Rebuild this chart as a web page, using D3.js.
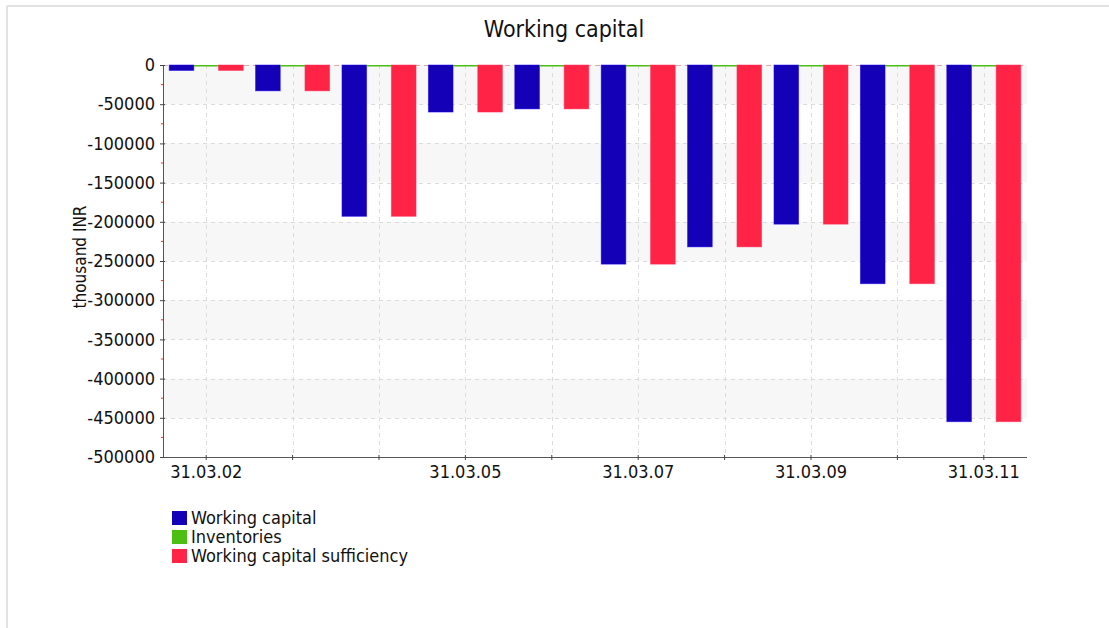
<!DOCTYPE html>
<html>
<head>
<meta charset="utf-8">
<script src="https://cdn.jsdelivr.net/npm/d3@7"></script>
<style>
  body { margin: 0; background: #fff; }
  text { font-family: 'DejaVu Sans Condensed', 'DejaVu Sans', sans-serif; fill: #111; }
</style>
</head>
<body>
<svg id="chart" width="1109" height="628"></svg>
<script>
// Reporting dates (fiscal year ends)
const categories = ["31.03.02", "31.03.03", "31.03.04", "31.03.05", "31.03.06",
                    "31.03.07", "31.03.08", "31.03.09", "31.03.10", "31.03.11"];
// Dates that carry a printed label on the category axis
const shownLabels = ["31.03.02", "31.03.05", "31.03.07", "31.03.09", "31.03.11"];

const seriesNames = ["Working capital", "Inventories", "Working capital sufficiency"];
const seriesColors = ["#1400b6", "#4cc012", "#ff2446"];

// thousand INR
const workingCapital = [-7000, -33000, -193000, -60000, -56000, -254000, -232000, -203000, -279000, -455000];
const inventories    = [0, 0, 0, 0, 0, 0, 0, 0, 0, 0];
const sufficiency    = [-7000, -33000, -193000, -60000, -56000, -254000, -232000, -203000, -279000, -455000];

const yTicks = [0, -50000, -100000, -150000, -200000, -250000, -300000, -350000, -400000, -450000, -500000];
const yDomain = [-500000, 0];

const seriesValues = [workingCapital, inventories, sufficiency];

const svg = d3.select("#chart");
const W = 1109, H = 628;
const plot = { left: 163, right: 1027, top: 65, bottom: 457 };
const FONT = "'DejaVu Sans Condensed','DejaVu Sans',sans-serif";

// outer frame (top and left edges)
svg.append("line").attr("x1", 7).attr("x2", W).attr("y1", 6).attr("y2", 6)
  .attr("stroke", "#e2e2e2").attr("stroke-width", 2);
svg.append("line").attr("x1", 7).attr("x2", 7).attr("y1", 6).attr("y2", H)
  .attr("stroke", "#e2e2e2").attr("stroke-width", 2);

const x0 = d3.scaleBand().domain(categories).range([plot.left, plot.right]).padding(0);
const x1 = d3.scaleBand().domain(seriesNames).range([0, x0.bandwidth()])
  .paddingInner(0).paddingOuter(0.25);
const y = d3.scaleLinear().domain(yDomain).range([plot.bottom, plot.top]);

// alternating background bands
const bands = [];
for (let i = 0; i < yTicks.length - 1; i += 2) bands.push([yTicks[i], yTicks[i + 1]]);
svg.append("g").selectAll("rect").data(bands).join("rect")
  .attr("x", plot.left).attr("width", plot.right - plot.left)
  .attr("y", d => y(d[0])).attr("height", d => y(d[1]) - y(d[0]))
  .attr("fill", "#f7f7f7");

// horizontal grid
svg.append("g").selectAll("line").data(yTicks.slice(1, -1)).join("line")
  .attr("x1", plot.left).attr("x2", plot.right)
  .attr("y1", d => Math.round(y(d)) + 0.5).attr("y2", d => Math.round(y(d)) + 0.5)
  .attr("stroke", "#dcdcdc").attr("stroke-dasharray", "4,4");

// vertical grid at category centres
svg.append("g").selectAll("line").data(categories).join("line")
  .attr("x1", d => Math.round(x0(d) + x0.bandwidth() / 2) + 0.5)
  .attr("x2", d => Math.round(x0(d) + x0.bandwidth() / 2) + 0.5)
  .attr("y1", plot.top).attr("y2", plot.bottom)
  .attr("stroke", "#dcdcdc").attr("stroke-dasharray", "4,4");

// zero line
svg.append("line")
  .attr("x1", plot.left).attr("x2", plot.right)
  .attr("y1", y(0) + 0.5).attr("y2", y(0) + 0.5)
  .attr("stroke", "#e0a8a8").attr("stroke-dasharray", "5,4");

// bars (a zero value still shows as a thin sliver on the baseline)
const groups = svg.append("g").selectAll("g").data(categories).join("g")
  .attr("transform", d => `translate(${x0(d)},0)`);
groups.selectAll("rect")
  .data((d, i) => seriesNames.map((s, k) => ({ s, k, v: seriesValues[k][i] })))
  .join("rect")
  .attr("x", d => x1(d.s))
  .attr("width", x1.bandwidth())
  .attr("y", d => Math.min(y(d.v), y(0)))
  .attr("height", d => Math.max(1.5, Math.abs(y(d.v) - y(0))))
  .attr("fill", d => seriesColors[d.k])
  .attr("stroke", d => d.v === 0 ? "none" : d3.color(seriesColors[d.k]).brighter(0.8))
  .attr("stroke-width", 0.8)
  .attr("stroke-opacity", 0.6);

// y axis
const yAxis = svg.append("g").attr("transform", `translate(${plot.left},0)`)
  .call(d3.axisLeft(y).tickValues(yTicks).tickFormat(d => String(d)).tickSize(3).tickPadding(5));
yAxis.select(".domain").attr("stroke", "#555").attr("d", `M0.5,${plot.top}V${plot.bottom}`);
yAxis.selectAll(".tick line").attr("stroke", "#444").attr("x1", 2);
yAxis.selectAll(".tick text").attr("font-size", 18)
  .style("font-family", FONT).attr("fill", "#111");

// minor ticks between labelled values
const minor = yTicks.slice(0, -1).map(v => v - 25000);
svg.append("g").selectAll("line").data(minor).join("line")
  .attr("x1", plot.left - 2).attr("x2", plot.left)
  .attr("y1", d => y(d)).attr("y2", d => y(d))
  .attr("stroke", "#e83030").attr("stroke-width", 1);

// x axis
const xAxis = svg.append("g").attr("transform", `translate(0,${plot.bottom})`)
  .call(d3.axisBottom(x0).tickSize(3).tickPadding(5)
    .tickFormat(d => shownLabels.includes(d) ? d : ""));
xAxis.select(".domain").attr("stroke", "#555").attr("d", `M${plot.left},0.5H${plot.right}`);
xAxis.selectAll(".tick line").attr("stroke", "#444").attr("y1", -2);
xAxis.selectAll(".tick text").attr("font-size", 18)
  .style("font-family", FONT).attr("fill", "#111");

// title
svg.append("text").attr("x", 564).attr("y", 37).attr("text-anchor", "middle")
  .attr("font-size", 23).text("Working capital");

// y axis title
svg.append("text").attr("transform", "translate(86,257) rotate(-90)")
  .attr("text-anchor", "middle").attr("font-size", 17).text("thousand INR");

// legend
const legend = svg.append("g").attr("transform", "translate(172,511)");
const item = legend.selectAll("g").data(seriesNames).join("g")
  .attr("transform", (d, i) => `translate(0,${i * 19})`);
item.append("rect").attr("width", 15).attr("height", 14)
  .attr("fill", (d, i) => seriesColors[i]);
item.append("text").attr("x", 19).attr("y", 12.5).attr("font-size", 18).text(d => d);
</script>
</body>
</html>
